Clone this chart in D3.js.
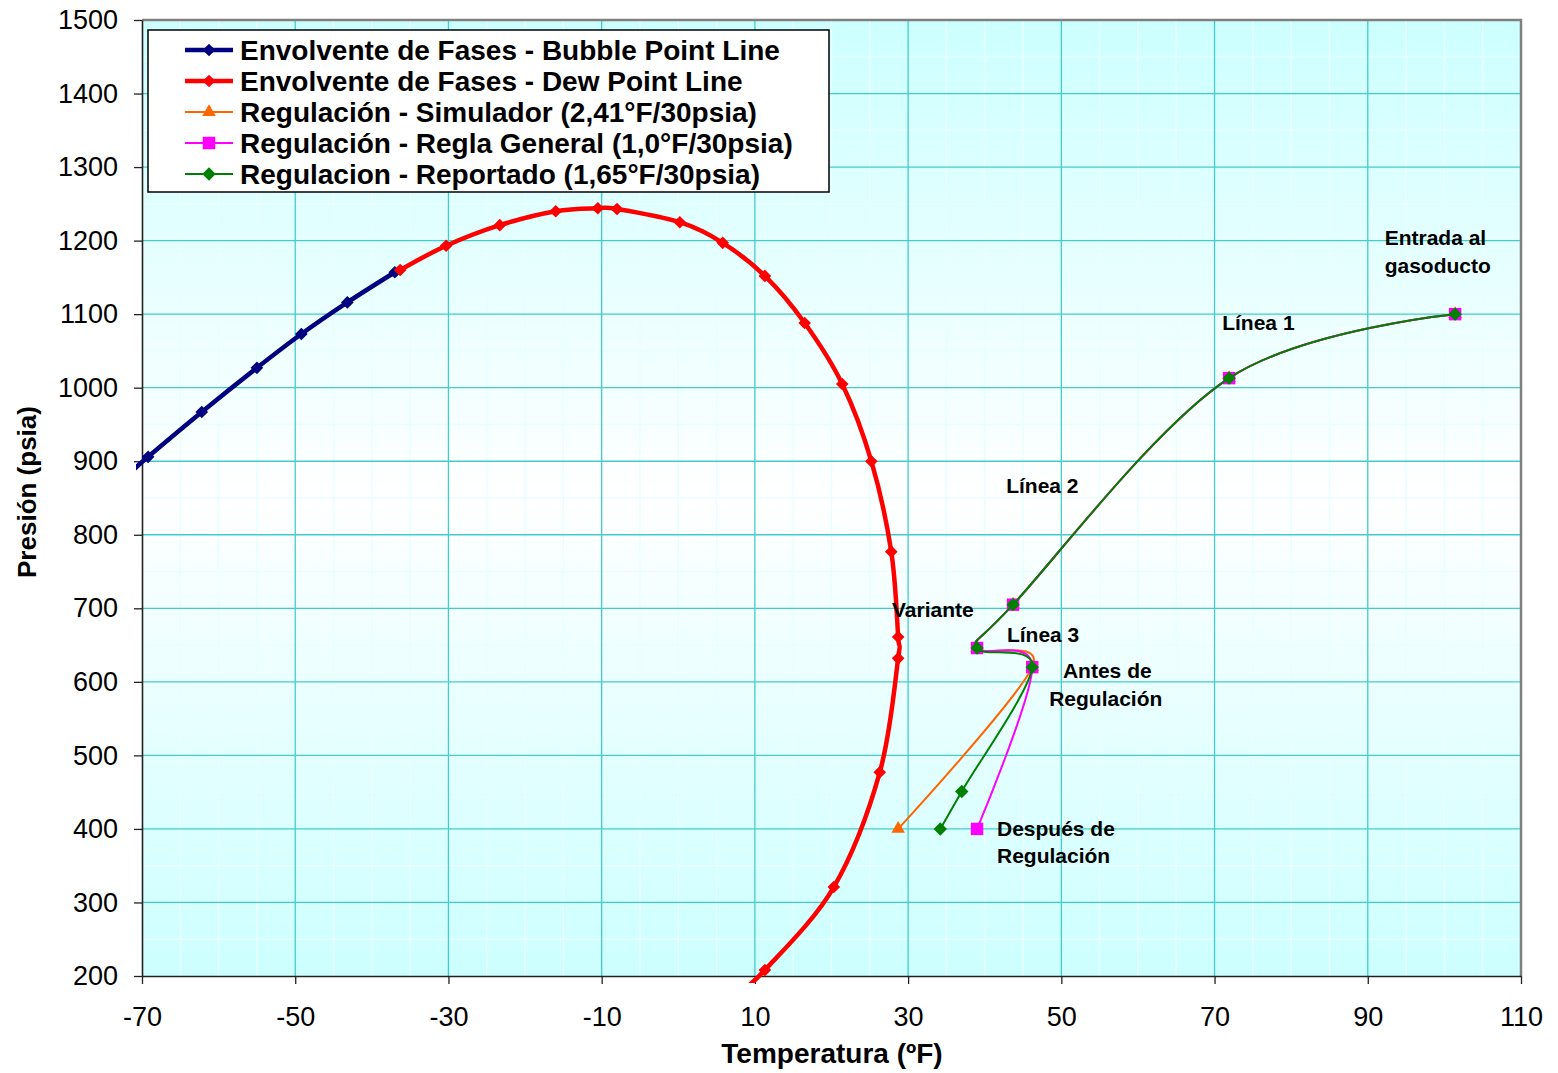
<!DOCTYPE html>
<html>
<head>
<meta charset="utf-8">
<script src="https://cdn.jsdelivr.net/npm/d3@7"></script>
<style>
  body { margin: 0; background: #fff; }
  text { font-family: Arial, "Liberation Sans", sans-serif; }
</style>
</head>
<body>
<div id="chart"></div>
<script>
// ---- data ----
const bubbleT = [-72.0, -69.2, -62.2, -55.0, -49.2, -43.2, -37.0];
const bubbleP = [880, 906, 967, 1027, 1073, 1116, 1157];

const dewT = [-36.3, -30.3, -23.3, -16.0, -10.5, -8.0, 0.2, 5.8, 11.3, 16.5, 21.4, 25.2, 27.8, 28.7, 28.7, 26.3, 20.3, 11.3, 7.0];
const dewP = [1160, 1193, 1221, 1240, 1244, 1243, 1225, 1197, 1152, 1088, 1005, 900, 777, 661, 632, 477, 321, 208, 170];

const simT = [101.4, 71.9, 43.7, 39.0, 46.2, 28.7];
const simP = [1100, 1013, 705, 646, 620, 400];

const reglaT = [101.4, 71.9, 43.7, 39.0, 46.2, 39.0];
const reglaP = [1100, 1013, 705, 646, 620, 400];

const reportT = [101.4, 71.9, 43.7, 39.0, 46.2, 37.0, 34.2];
const reportP = [1100, 1013, 705, 646, 620, 451, 400];

const seriesNames = [
  "Envolvente de Fases - Bubble Point Line",
  "Envolvente de Fases - Dew Point Line",
  "Regulación - Simulador (2,41°F/30psia)",
  "Regulación - Regla General (1,0°F/30psia)",
  "Regulacion - Reportado (1,65°F/30psia)"
];

const xTicks = [-70, -50, -30, -10, 10, 30, 50, 70, 90, 110];
const yTicks = [200, 300, 400, 500, 600, 700, 800, 900, 1000, 1100, 1200, 1300, 1400, 1500];

// annotation texts, placed in data units
const noteText = ["Entrada al", "gasoducto", "Línea 1", "Línea 2", "Variante", "Línea 3", "Antes de", "Regulación", "Después de", "Regulación"];
const noteT = [92.2, 92.2, 71.0, 42.8, 27.9, 42.9, 56.0, 55.8, 41.6, 41.6];
const noteP = [1194, 1156, 1078, 857, 688, 654, 605, 567, 390, 354];
const noteAnchor = ["start", "start", "start", "start", "start", "start", "middle", "middle", "start", "start"];

// ---- layout ----
const W = 1558, H = 1073;
const plotL = 142, plotR = 1521, plotT = 20, plotB = 976;

const x = d3.scaleLinear().domain([-70, 110]).range([plotL, plotR]);
const y = d3.scaleLinear().domain([200, 1500]).range([plotB, plotT]);

const svg = d3.select("#chart").append("svg")
  .attr("width", W)
  .attr("height", H);

const defs = svg.append("defs");
const grad = defs.append("linearGradient")
  .attr("id", "bg").attr("x1", 0).attr("y1", 0).attr("x2", 0).attr("y2", 1);
grad.append("stop").attr("offset", "0%").attr("stop-color", "#ccffff");
grad.append("stop").attr("offset", "50%").attr("stop-color", "#ffffff");
grad.append("stop").attr("offset", "100%").attr("stop-color", "#ccffff");

defs.append("clipPath").attr("id", "clip")
  .append("rect").attr("x", 136).attr("y", 0).attr("width", W - 136).attr("height", 983);

// plot background
svg.append("rect")
  .attr("x", plotL).attr("y", plotT)
  .attr("width", plotR - plotL).attr("height", plotB - plotT)
  .attr("fill", "url(#bg)");

// minor gridlines
const minorX = d3.range(-65, 110, 5).filter(v => (v + 70) % 20 !== 0);
const minorY = d3.range(250, 1500, 100);
svg.append("g").selectAll("line").data(minorX).enter().append("line")
  .attr("x1", d => x(d)).attr("x2", d => x(d))
  .attr("y1", plotT).attr("y2", plotB)
  .attr("stroke", "#e8ffff").attr("stroke-width", 1.5);
svg.append("g").selectAll("line").data(minorY).enter().append("line")
  .attr("x1", plotL).attr("x2", plotR)
  .attr("y1", d => y(d)).attr("y2", d => y(d))
  .attr("stroke", "#e8ffff").attr("stroke-width", 1.5);

// major gridlines
svg.append("g").selectAll("line").data(xTicks.slice(1, -1)).enter().append("line")
  .attr("x1", d => x(d)).attr("x2", d => x(d))
  .attr("y1", plotT).attr("y2", plotB)
  .attr("stroke", "#44cccc").attr("stroke-width", 1.3);
svg.append("g").selectAll("line").data(yTicks.slice(1, -1)).enter().append("line")
  .attr("x1", plotL).attr("x2", plotR)
  .attr("y1", d => y(d)).attr("y2", d => y(d))
  .attr("stroke", "#44cccc").attr("stroke-width", 1.3);

// plot border (top / right)
svg.append("path")
  .attr("d", `M${plotL},${plotT}H${plotR}V${plotB}`)
  .attr("fill", "none").attr("stroke", "#808080").attr("stroke-width", 2.5);

// axes
const yAxis = svg.append("g")
  .attr("transform", `translate(${plotL},0)`)
  .call(d3.axisLeft(y).tickValues(yTicks).tickFormat(d => String(d))
    .tickSize(8).tickSizeOuter(0).tickPadding(16));
const xAxis = svg.append("g")
  .attr("transform", `translate(0,${plotB})`)
  .call(d3.axisBottom(x).tickValues(xTicks).tickFormat(d => String(d))
    .tickSize(8).tickSizeOuter(0).tickPadding(23));
[xAxis, yAxis].forEach(a => {
  a.select(".domain").attr("stroke", "#222").attr("stroke-width", 1.6);
  a.selectAll(".tick line").attr("stroke", "#222").attr("stroke-width", 1.3);
  a.selectAll("text").attr("font-size", 27).attr("fill", "#000")
    .attr("font-family", "Arial, 'Liberation Sans', sans-serif");
});

// axis titles
svg.append("text")
  .attr("x", 832).attr("y", 1063)
  .attr("text-anchor", "middle")
  .attr("font-size", 28).attr("font-weight", "bold")
  .text("Temperatura (ºF)");
svg.append("text")
  .attr("transform", "translate(36,492) rotate(-90)")
  .attr("text-anchor", "middle")
  .attr("font-size", 26).attr("font-weight", "bold")
  .text("Presión (psia)");

// ---- series ----
const line = d3.line()
  .x(d => x(d[0])).y(d => y(d[1]))
  .curve(d3.curveCatmullRom.alpha(0));

const series = [
  { t: bubbleT, p: bubbleP, color: "#000080", width: 4.5, sym: d3.symbolSquare, size: 80, rot: 45 },
  { t: dewT, p: dewP, color: "#ff0000", width: 4.5, sym: d3.symbolSquare, size: 80, rot: 45 },
  { t: simT, p: simP, color: "#ff6600", width: 2, sym: d3.symbolTriangle, size: 80, rot: 0 },
  { t: reglaT, p: reglaP, color: "#ff00ff", width: 2, sym: d3.symbolSquare, size: 155, rot: 0 },
  { t: reportT, p: reportP, color: "#008000", width: 2, sym: d3.symbolSquare, size: 90, rot: 45 }
];

const plot = svg.append("g").attr("clip-path", "url(#clip)");

series.forEach(s => {
  const pts = s.t.map((t, i) => [t, s.p[i]]);
  plot.append("path")
    .datum(pts)
    .attr("d", line)
    .attr("fill", "none")
    .attr("stroke", s.color)
    .attr("stroke-width", s.width)
    .attr("stroke-linejoin", "round");
  plot.append("g").selectAll("path").data(pts).enter().append("path")
    .attr("d", d3.symbol().type(s.sym).size(s.size))
    .attr("transform", d => `translate(${x(d[0])},${y(d[1])}) rotate(${s.rot})`)
    .attr("fill", s.color);
});

// ---- annotations ----
svg.append("g").selectAll("text").data(noteText).enter().append("text")
  .attr("x", (d, i) => x(noteT[i]))
  .attr("y", (d, i) => y(noteP[i]))
  .attr("text-anchor", (d, i) => noteAnchor[i])
  .attr("font-size", 21).attr("font-weight", "bold")
  .text(d => d);

// ---- legend ----
const legend = svg.append("g");
legend.append("rect")
  .attr("x", 148).attr("y", 30).attr("width", 681).attr("height", 162)
  .attr("fill", "#fff").attr("stroke", "#000").attr("stroke-width", 1.5);

const legendY = d3.scaleLinear().domain([0, 4]).range([50, 174]);
seriesNames.forEach((name, i) => {
  const s = series[i];
  const g = legend.append("g").attr("transform", `translate(0,${legendY(i)})`);
  g.append("line")
    .attr("x1", 185).attr("x2", 233).attr("y1", 0).attr("y2", 0)
    .attr("stroke", s.color).attr("stroke-width", s.width);
  g.append("path")
    .attr("d", d3.symbol().type(s.sym).size(s.size))
    .attr("transform", `translate(209,0) rotate(${s.rot})`)
    .attr("fill", s.color);
  g.append("text")
    .attr("x", 240).attr("y", 0).attr("dy", "0.36em")
    .attr("font-size", 28).attr("font-weight", "bold")
    .text(name);
});
</script>
</body>
</html>
